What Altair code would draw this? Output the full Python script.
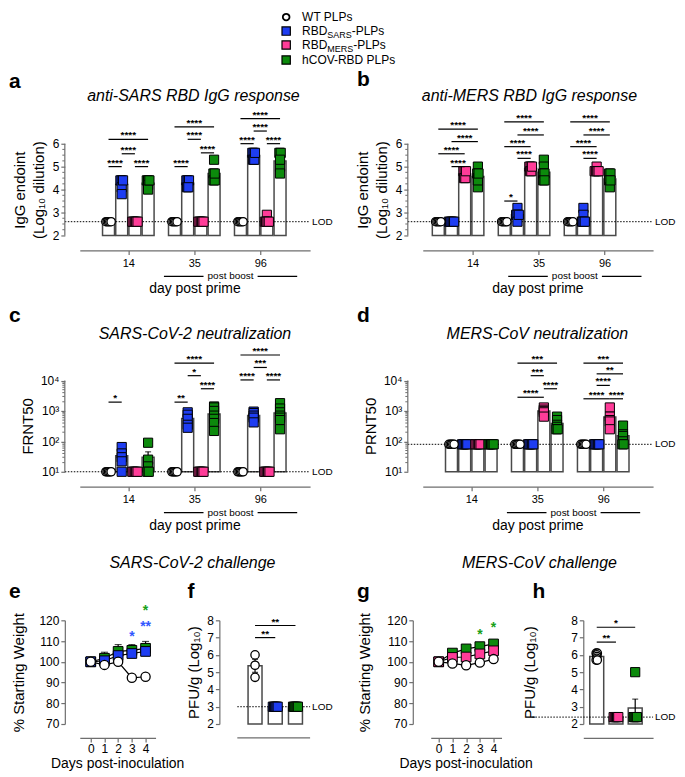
import altair as alt
import pandas as pd

FONT = "Liberation Sans"
AX = "#6e6e6e"
BAR_STROKE = "#4a4a4a"
BLUE = "#1e3df2"
PINK = "#ff3c98"
GREEN = "#0c8a0c"
STAR_BLUE = "#3157ff"
STAR_GREEN = "#19a019"

GROUPS = ["WT", "SARS", "MERS", "hCOV"]
FILLS = ["white", BLUE, PINK, GREEN]

LEG_MAIN = ["WT PLPs", "RBD", "RBD", "hCOV-RBD PLPs"]
LEG_SUB = ["", "SARS", "MERS", ""]
LEG_TAIL = ["", "-PLPs", "-PLPs", ""]

DAYS = ["14", "35", "96"]
DAY_NUMS = [0, 1, 2, 3, 4]

# ---- a: anti-SARS RBD IgG (log10 endpoint dilution) per day 14 / 35 / 96
a_wt = [[2.6, 2.6, 2.6, 2.6, 2.6], [2.6, 2.6, 2.6, 2.6, 2.6], [2.6, 2.6, 2.6, 2.6, 2.6]]
a_sars = [[4.4, 4.4, 4.1, 3.8, 4.4], [4.4, 4.4, 4.1, 4.4, 4.1], [5.6, 5.6, 5.3, 5.3, 5.6]]
a_mers = [[2.6, 2.6, 2.6, 2.6, 2.6], [2.6, 2.6, 2.6, 2.6, 2.6], [2.9, 2.6, 2.6, 2.6, 2.6]]
a_hcov = [[4.4, 4.4, 4.2, 4.0, 4.4], [5.3, 4.7, 4.4, 4.4, 4.7], [5.6, 5.6, 5.0, 4.7, 5.3]]
a_sig = [(0, 0, 1, 5.0, "****"), (0, 2, 3, 5.0, "****"), (0, 1, 2, 5.56, "****"), (0, 0, 3, 6.19, "****"),
         (1, 0, 1, 5.0, "****"), (1, 2, 3, 5.6, "****"), (1, 1, 2, 6.19, "****"), (1, 0, 3, 6.73, "****"),
         (2, 0, 1, 6.0, "****"), (2, 2, 3, 6.0, "****"), (2, 1, 2, 6.55, "****"), (2, 0, 3, 7.09, "****")]

# ---- b: anti-MERS RBD IgG
b_wt = [[2.6, 2.6, 2.6, 2.6, 2.6], [2.6, 2.6, 2.6, 2.6, 2.6], [2.6, 2.6, 2.6, 2.6, 2.6]]
b_sars = [[2.6, 2.6, 2.6, 2.6, 2.6], [3.2, 2.9, 2.9, 2.6, 2.9], [3.2, 2.9, 2.6, 2.6, 2.6]]
b_mers = [[4.8, 4.8, 4.5, 4.5, 4.8], [5.0, 5.0, 4.8, 4.8, 5.0], [5.0, 4.8, 4.8, 4.8, 4.8]]
b_hcov = [[5.0, 4.7, 4.5, 4.1, 4.4, 4.7], [5.3, 5.0, 4.7, 4.4, 4.7, 4.4], [4.7, 4.7, 4.4, 4.1, 4.4]]
b_sig = [(0, 1, 2, 5.0, "****"), (0, 0, 2, 5.56, "****"), (0, 1, 3, 6.09, "****"), (0, 0, 3, 6.63, "****"),
         (1, 0, 1, 3.5, "*"), (1, 1, 2, 5.36, "****"), (1, 0, 2, 5.87, "****"), (1, 1, 3, 6.38, "****"),
         (1, 0, 3, 6.95, "****"),
         (2, 1, 2, 5.36, "****"), (2, 0, 2, 5.87, "****"), (2, 1, 3, 6.38, "****"), (2, 0, 3, 6.95, "****")]

# ---- c: SARS-CoV-2 neutralization (FRNT50)
c_wt = [[10, 10, 10, 10, 10], [10, 10, 10, 10, 10], [10, 10, 10, 10, 10]]
c_sars = [[65, 40, 30, 22, 10], [900, 750, 550, 350, 280], [950, 850, 700, 600, 420]]
c_mers = [[10, 10, 10, 10, 10], [10, 10, 10, 10, 10], [10, 10, 10, 10, 10]]
c_hcov = [[90, 25, 15, 10, 10], [1400, 1300, 1000, 700, 550, 400, 220], [1800, 1200, 900, 700, 600, 500, 250]]
c_sig = [(0, 0, 1, 1950, "*"),
         (1, 0, 1, 1950, "**"), (1, 2, 3, 5370, "****"), (1, 1, 2, 14450, "*"), (1, 0, 3, 37150, "****"),
         (2, 0, 1, 10470, "****"), (2, 2, 3, 10470, "****"), (2, 1, 2, 26900, "***"), (2, 0, 3, 69180, "****")]

# ---- d: MERS-CoV neutralization (PRNT50)
d_wt = [[80, 80, 80, 80, 80], [80, 80, 80, 80, 80], [80, 80, 80, 80, 80]]
d_sars = [[80, 80, 80, 80, 80], [80, 80, 80, 80, 80], [80, 80, 80, 80, 80]]
d_mers = [[80, 80, 80, 80, 80], [1300, 1100, 1000, 900, 650], [1300, 650, 500, 450, 250]]
d_hcov = [[80, 80, 80, 80, 80], [650, 500, 350, 300, 250, 250], [330, 170, 150, 100, 80, 80]]
d_sig = [(1, 0, 2, 2820, "****"), (1, 2, 3, 5370, "****"), (1, 1, 2, 14450, "***"), (1, 0, 3, 37150, "***"),
         (2, 0, 2, 2510, "****"), (2, 2, 3, 2510, "****"), (2, 1, 2, 6920, "****"), (2, 1, 3, 16600, "**"),
         (2, 0, 3, 37150, "***")]

# ---- e: SARS-CoV-2 challenge, % starting weight (mean, sem) by day 0-4
e_wt = [100, 98.5, 100, 92.3, 92.8]
e_wt_sem = [0.4, 0.6, 0.5, 0.6, 0.6]
e_sars = [100, 100.5, 103, 104, 105]
e_sars_sem = [0.3, 0.8, 1.5, 2.0, 2.0]
e_hcov = [100, 101.7, 105, 105.5, 106.5]
e_hcov_sem = [0.3, 2.9, 3.3, 2.8, 3.3]
e_star_day = [3, 4, 4]
e_star_level = [113.5, 118.4, 125.7]
e_star_txt = ["*", "**", "*"]
e_star_col = [STAR_BLUE, STAR_BLUE, STAR_GREEN]

# ---- f: SARS-CoV-2 lung titer PFU/g (log10)
f_wt = [6.0, 5.4, 4.7]
f_sars = [3.0, 3.0, 3.0, 3.0, 3.0]
f_hcov = [3.0, 3.0, 3.0, 3.0, 3.0]
f_sig = [(0, 0, 1, 7.0, "**"), (0, 0, 2, 7.7, "**")]

# ---- g: MERS-CoV challenge, % starting weight
g_wt = [100, 99.2, 98.3, 99.6, 101.3]
g_wt_sem = [0.3, 0.6, 0.8, 0.6, 0.6]
g_mers = [100, 102.1, 102.3, 103.8, 105.3]
g_mers_sem = [0.3, 1.0, 1.5, 1.5, 1.5]
g_hcov = [100, 104.2, 106.2, 107.3, 108.6]
g_hcov_sem = [0.3, 0.8, 1.0, 1.2, 1.0]
g_star_day = [3, 4]
g_star_level = [114.3, 117.9]
g_star_txt = ["*", "*"]
g_star_col = [STAR_GREEN, STAR_GREEN]

# ---- h: MERS-CoV lung titer PFU/g (log10)
h_wt = [6.1, 6.1, 6.0, 5.9, 5.8, 5.7, 5.7]
h_mers = [2.4, 2.4, 2.4, 2.4, 2.4]
h_hcov = [5.0, 2.4, 2.4, 2.4, 2.4]
h_sig = [(0, 0, 1, 6.74, "**"), (0, 0, 2, 7.6, "*")]

SLOT = 5  # 4 bars + 1 gap per day group
LOG_EXPR = ("datum.value == 10 ? '10\u00b9' : datum.value == 100 ? '10\u00b2' : "
            "datum.value == 1000 ? '10\u00b3' : '10\u2074'")
IGG_TITLE = ["IgG endoint", "(Log\u2081\u2080 dilution)"]
PFU_TITLE = "PFU/g (Log\u2081\u2080)"

# axis minor ticks (Prism style)
MINOR_LIN = [i / 4 for i in range(8, 24) if i % 4]
MINOR_LOG = [k * 10 ** d for d in (1, 2, 3) for k in range(2, 10)]

# legend layout (pixels relative to panel a plot area)
LEG_Y = [-97, -83, -69, -54]
LEG_SYM_X = 207
LEG_TXT_X = 223
LEG_RBD_W = 25.3
LEG_SUB_W = [0, 24.5, 26.0, 0]


def one():
    return pd.DataFrame({"k": [0]})


def fill_enc():
    return alt.Fill("group:N", scale=alt.Scale(domain=GROUPS, range=FILLS), legend=None)


def note(txt, x, y, size, weight="normal", style="normal", align="center", color="black",
         baseline="alphabetic"):
    return alt.Chart(one()).mark_text(text=txt, fontSize=size, fontWeight=weight, fontStyle=style,
                                      align=align, baseline=baseline, color=color).encode(
        x=alt.value(x), y=alt.value(y))


def frame(x0, x1, y0, y1):
    return alt.Chart(one()).mark_rect(opacity=0).encode(
        x=alt.value(x0), x2=alt.value(x1), y=alt.value(y0), y2=alt.value(y1))


def legend_layers():
    out = []
    for i, (grp, main, sub, tail) in enumerate(zip(GROUPS, LEG_MAIN, LEG_SUB, LEG_TAIL)):
        y = LEG_Y[i]
        gdf = pd.DataFrame({"group": [grp]})
        if grp == "WT":
            sym = alt.Chart(gdf).mark_circle(size=45, stroke="black", strokeWidth=1.8, opacity=1)
        else:
            sym = alt.Chart(gdf).mark_square(size=70, stroke="black", strokeWidth=1.2, opacity=1)
        out.append(sym.encode(x=alt.value(LEG_SYM_X), y=alt.value(y), fill=fill_enc()))
        out.append(note(main, LEG_TXT_X, y, 12, align="left", baseline="middle"))
        if sub:
            out.append(note(sub, LEG_TXT_X + LEG_RBD_W, y + 4, 9, align="left", baseline="middle"))
        if tail:
            out.append(note(tail, LEG_TXT_X + LEG_RBD_W + LEG_SUB_W[i], y, 12, align="left",
                            baseline="middle"))
    return out


def spread(vals, step):
    offs = [0.0] * len(vals)
    buckets = {}
    for i, v in enumerate(vals):
        buckets.setdefault(round(float(v), 6), []).append(i)
    for idx in buckets.values():
        n = len(idx)
        for j, i in enumerate(idx):
            offs[i] = (j - (n - 1) / 2) * step
    return offs


def bar_frame(entries, step):
    rows = []
    for grp, gpos, vals in entries:
        for v, o in zip(vals, spread(vals, step)):
            rows.append({"group": grp, "gpos": gpos, "pos": gpos + o, "value": v})
    return pd.DataFrame(rows)


def day_entries(wt, sars, mers, hcov):
    out = []
    for gi, (grp, series) in enumerate(zip(GROUPS, [wt, sars, mers, hcov])):
        for d, vals in enumerate(series):
            out.append((grp, d * SLOT + gi, vals))
    return out


def sig_frame(rows):
    return pd.DataFrame([{"x1": d * SLOT + g1, "x2": d * SLOT + g2, "xm": d * SLOT + (g1 + g2) / 2,
                          "level": lv, "txt": t} for d, g1, g2, lv, t in rows])


def bar_panel(entries, sig_rows, lod, xs, ys, xaxis, yaxis, ybase, ytop, yoff,
              width, height, vis_w, bar_w, jit, lod_x0, extras, manual_xaxis=False, minor=None):
    df = bar_frame(entries, jit)

    def X(f):
        return alt.X(f, scale=xs, axis=xaxis)

    def Y(f):
        return alt.Y(f, scale=ys, axis=yaxis)

    lod_df = pd.DataFrame({"lod": [lod]})
    sig_df = sig_frame(sig_rows)
    layers = [
        alt.Chart(df).mark_bar(size=bar_w, fill="white", stroke=BAR_STROKE, strokeWidth=1.5,
                               orient="vertical").encode(
            x=X("gpos:Q"), y=Y("mean(value):Q"), y2=alt.datum(ybase)),
        alt.Chart(lod_df).mark_rule(color="black", strokeWidth=1, strokeDash=[1.5, 1.5]).encode(
            x=alt.value(lod_x0), x2=alt.value(vis_w), y=Y("lod:Q")),
        alt.Chart(df).mark_errorbar(extent="stderr", orient="vertical", ticks=True, size=6,
                                    thickness=1.2, color="black").encode(
            x=X("gpos:Q"), y=Y("value:Q")),
        alt.Chart(df).transform_filter(alt.datum.group != "WT").mark_square(
            size=85, stroke="black", strokeWidth=1, opacity=1).encode(
            x=X("pos:Q"), y=Y("value:Q"), fill=fill_enc()),
        alt.Chart(df).transform_filter(alt.datum.group == "WT").mark_circle(
            size=70, stroke="black", strokeWidth=1.3, opacity=1).encode(
            x=X("pos:Q"), y=Y("value:Q"), fill=fill_enc()),
        alt.Chart(sig_df).mark_rule(color="black", strokeWidth=1.2).encode(
            x=X("x1:Q"), x2="x2:Q", y=Y("level:Q")),
        alt.Chart(sig_df).mark_text(fontSize=10, fontWeight="bold", baseline="alphabetic", dy=-1).encode(
            x=X("xm:Q"), y=Y("level:Q"), text="txt:N"),
        alt.Chart(lod_df).mark_text(text="LOD", fontSize=10, align="left", baseline="middle", dx=2).encode(
            x=alt.value(vis_w), y=Y("lod:Q")),
    ]
    if ytop is not None:
        layers.append(alt.Chart(pd.DataFrame({"y1": [ybase], "y2": [ytop]})).mark_rule(
            color=AX, strokeWidth=1.2).encode(x=alt.value(-yoff), y=Y("y1:Q"), y2="y2:Q"))
    if minor is not None:
        layers.append(alt.Chart(pd.DataFrame({"v": minor})).mark_rule(color=AX, strokeWidth=1).encode(
            x=alt.value(-yoff - 2.5), x2=alt.value(-yoff), y=Y("v:Q")))
    if manual_xaxis:
        layers.append(alt.Chart(one()).mark_rule(color=AX, strokeWidth=1.2).encode(
            x=alt.value(0), x2=alt.value(vis_w), y=alt.value(height + 14)))
    return alt.layer(*layers, *extras).properties(width=width, height=height)


def day_axis(shift):
    return alt.Axis(values=[1.5 + shift, 6.5 + shift, 11.5 + shift],
                    labelExpr=f"datum.value < 5 ? '{DAYS[0]}' : (datum.value < 10 ? '{DAYS[1]}' : '{DAYS[2]}')",
                    offset=15, tickSize=4, labelFontSize=11, labelPadding=3, title=None, grid=False)


def lin_top_axis(title, pad):
    return alt.Axis(values=[2, 3, 4, 5, 6], domain=False, offset=15, tickSize=4, labelFontSize=12,
                    labelPadding=2, title=title, titleFontSize=15, titlePadding=pad,
                    titleLineHeight=19, titleY=76, grid=False)


def log_axis(title, pad):
    return alt.Axis(values=[10, 100, 1000, 10000], domain=False, offset=15, tickSize=4, labelFontSize=12,
                    labelPadding=2, labelExpr=LOG_EXPR, title=title, titleFontSize=15, titlePadding=pad,
                    titleY=76, grid=False)


def pfu_axis(pad, off):
    return alt.Axis(values=[2, 3, 4, 5, 6, 7, 8], offset=off, tickSize=4, labelFontSize=12, labelPadding=2,
                    title=PFU_TITLE, titleFontSize=15, titlePadding=pad, grid=False)


def weight_axis(pad, off):
    return alt.Axis(values=[70, 80, 90, 100, 110, 120], offset=off, tickSize=4, labelFontSize=12,
                    labelPadding=2, title="% Starting Weight", titleFontSize=15, titlePadding=pad, grid=False)


def day_num_axis():
    return alt.Axis(values=DAY_NUMS, format="d", offset=14, tickSize=4, labelFontSize=12, labelPadding=2,
                    title=None, grid=False)


def day_extras(xs, xaxis, width, height, shift, title, title_x, title_y, letter, letter_x, letter_y):
    pb = pd.DataFrame({"x1": [4.2 + shift, 11.3 + shift], "x2": [7.2 + shift, 14.3 + shift]})
    return [
        alt.Chart(pb).mark_rule(color="black", strokeWidth=1.2).encode(
            x=alt.X("x1:Q", scale=xs, axis=xaxis), x2="x2:Q", y=alt.value(height + 41)),
        alt.Chart(pd.DataFrame({"xm": [9.25 + shift]})).mark_text(
            text="post boost", fontSize=10, baseline="middle").encode(
            x=alt.X("xm:Q", scale=xs, axis=xaxis), y=alt.value(height + 41)),
        note(title, title_x, title_y, 16, style="italic"),
        note(letter, letter_x, letter_y, 21, weight="bold", align="left"),
        note("day post prime", width / 2, height + 58, 14),
    ]


def line_panel(series, stars, xs, ys, xaxis, yaxis, width, height, extras):
    rows = []
    for grp, means, sems in series:
        for day, m, s in zip(DAY_NUMS, means, sems):
            rows.append({"group": grp, "day": day, "mean": m, "lo": m - s, "hi": m + s})
    df = pd.DataFrame(rows)
    sdf = pd.DataFrame({"day": stars[0], "level": stars[1], "txt": stars[2], "col": stars[3]})
    X = alt.X("day:Q", scale=xs, axis=xaxis)

    def Y(f):
        return alt.Y(f, scale=ys, axis=yaxis)

    layers = [
        alt.Chart(df).mark_rule(color="black", strokeWidth=1.2).encode(x=X, y=Y("lo:Q"), y2="hi:Q"),
        alt.Chart(df).mark_tick(orient="horizontal", size=7, thickness=1.2, color="black").encode(
            x=X, y=Y("hi:Q")),
        alt.Chart(df).mark_tick(orient="horizontal", size=7, thickness=1.2, color="black").encode(
            x=X, y=Y("lo:Q")),
        alt.Chart(df).mark_line(color="black", strokeWidth=1.2).encode(x=X, y=Y("mean:Q"), detail="group:N"),
        alt.Chart(df).transform_filter(alt.datum.group != "WT").mark_square(
            size=95, stroke="black", strokeWidth=1, opacity=1).encode(x=X, y=Y("mean:Q"), fill=fill_enc()),
        alt.Chart(df).transform_filter(alt.datum.group == "WT").mark_circle(
            size=85, stroke="black", strokeWidth=1.3, opacity=1).encode(x=X, y=Y("mean:Q"), fill=fill_enc()),
        alt.Chart(sdf).mark_text(fontSize=14, fontWeight="bold", baseline="middle", dy=3).encode(
            x=X, y=Y("level:Q"), text="txt:N", color=alt.Color("col:N", scale=None)),
    ]
    return alt.layer(*layers, *extras).properties(width=width, height=height)


# ---------------- rows 1 & 2 ----------------
W_AB, H_TOP = 231, 122
xs_acd = alt.Scale(domain=[-1.8, 14.9], nice=False, zero=False)
xs_b = alt.Scale(domain=[-0.8, 15.9], nice=False, zero=False)
ys_lin = alt.Scale(domain=[2, 7.3], nice=False, zero=False)
ys_log = alt.Scale(type="log", domain=[10, 100000], nice=False)

ax_a, ax_b, ax_c, ax_d = day_axis(0), day_axis(1.1), day_axis(0), day_axis(0)

p_a = bar_panel(day_entries(a_wt, a_sars, a_mers, a_hcov), a_sig, 2.6, xs_acd, ys_lin, ax_a,
                lin_top_axis(IGG_TITLE, 6), 2, 6, 15, W_AB, H_TOP, W_AB, 12, 0.1, -15,
                day_extras(xs_acd, ax_a, W_AB, H_TOP, 0, "anti-SARS RBD IgG response", 114, -12.5, "a", -71, -26)
                + legend_layers() + [frame(-71, -60, -103, H_TOP + 65)], minor=MINOR_LIN)
p_b = bar_panel(day_entries(b_wt, b_sars, b_mers, b_hcov), b_sig, 2.6, xs_b, ys_lin, ax_b,
                lin_top_axis(IGG_TITLE, 6), 2, 6, 15, W_AB, H_TOP, W_AB, 12, 0.1, -15,
                day_extras(xs_b, ax_b, W_AB, H_TOP, 1.1, "anti-MERS RBD IgG response", 107, -12.5, "b", -66, -28),
                minor=MINOR_LIN)
p_c = bar_panel(day_entries(c_wt, c_sars, c_mers, c_hcov), c_sig, 10, xs_acd, ys_log, ax_c,
                log_axis("FRNT50", 5), 10, 10000, 15, W_AB, H_TOP, W_AB, 12, 0.1, -15,
                day_extras(xs_acd, ax_c, W_AB, H_TOP, 0, "SARS-CoV-2 neutralization", 115.5, -11.5, "c", -71, -28)
                + [frame(-71, -60, -48, H_TOP + 77)], minor=MINOR_LOG)
p_d = bar_panel(day_entries(d_wt, d_sars, d_mers, d_hcov), d_sig, 80, xs_acd, ys_log, ax_d,
                log_axis("PRNT50", 5), 10, 10000, 15, W_AB, H_TOP, W_AB, 12, 0.1, -15,
                day_extras(xs_acd, ax_d, W_AB, H_TOP, 0, "MERS-CoV neutralization", 115, -11.5, "d", -66, -28),
                minor=MINOR_LOG)

# ---------------- row 3 ----------------
H_BOT = 104
ys_w = alt.Scale(domain=[70, 120], nice=False, zero=False)
ys_pfu = alt.Scale(domain=[2, 8], nice=False, zero=False)

p_e = line_panel([("hCOV", e_hcov, e_hcov_sem), ("SARS", e_sars, e_sars_sem), ("WT", e_wt, e_wt_sem)],
                 (e_star_day, e_star_level, e_star_txt, e_star_col),
                 alt.Scale(domain=[-0.8, 4.73], nice=False, zero=False), ys_w, day_num_axis(),
                 weight_axis(12, 15), 76, H_BOT,
                 [note("SARS-CoV-2 challenge", 113, -52.5, 16, style="italic"),
                  note("e", -71, -22, 21, weight="bold", align="left"),
                  note("Days post-inoculation", 38, H_BOT + 44, 14),
                  frame(-71, -60, -70, H_BOT + 50)])
p_f = bar_panel([("WT", 0, f_wt), ("SARS", 1, f_sars), ("hCOV", 2, f_hcov)], f_sig, 3,
                alt.Scale(domain=[-0.63, 4.40], nice=False, zero=False), ys_pfu, None,
                pfu_axis(5, 18), 2, None, 18, 112, H_BOT, 73, 14, 0.06, 0,
                [note("f", -50, -22, 21, weight="bold", align="left")], manual_xaxis=True)
p_g = line_panel([("hCOV", g_hcov, g_hcov_sem), ("MERS", g_mers, g_mers_sem), ("WT", g_wt, g_wt_sem)],
                 (g_star_day, g_star_level, g_star_txt, g_star_col),
                 alt.Scale(domain=[-0.58, 4.58], nice=False, zero=False), ys_w, day_num_axis(),
                 weight_axis(14, 18), 71, H_BOT,
                 [note("MERS-CoV challenge", 109, -52.5, 16, style="italic"),
                  note("g", -74, -22, 21, weight="bold", align="left"),
                  note("Days post-inoculation", 35.5, H_BOT + 44, 14)])
p_h = bar_panel([("WT", 0, h_wt), ("MERS", 1, h_mers), ("hCOV", 2, h_hcov)], h_sig, 2.4,
                alt.Scale(domain=[-0.44, 2.67], nice=False, zero=False), ys_pfu,
                alt.Axis(labels=False, ticks=False, offset=14, title=None, grid=False),
                pfu_axis(33, 0), 2, None, 0, 70, H_BOT, 70, 14, 0.06, -51,
                [note("h", -51, -22, 21, weight="bold", align="left")])

row1 = alt.hconcat(p_a, p_b, spacing=113, bounds="flush")
row2 = alt.hconcat(p_c, p_d, spacing=113, bounds="flush")
row3 = alt.hconcat(p_e, p_f, p_g, p_h, spacing=82, bounds="flush")

chart = alt.vconcat(row1, row2, row3, spacing=0).properties(padding=0)
chart = chart.configure(font=FONT).configure_view(stroke="transparent").configure_axis(
    domainColor=AX, tickColor=AX, domainWidth=1.2, tickWidth=1.2, labelColor="black", titleColor="black",
    labelFont=FONT, titleFont=FONT, titleFontWeight="normal", grid=False)

chart.save("out.html", embed_options={"renderer": "svg", "actions": False})
